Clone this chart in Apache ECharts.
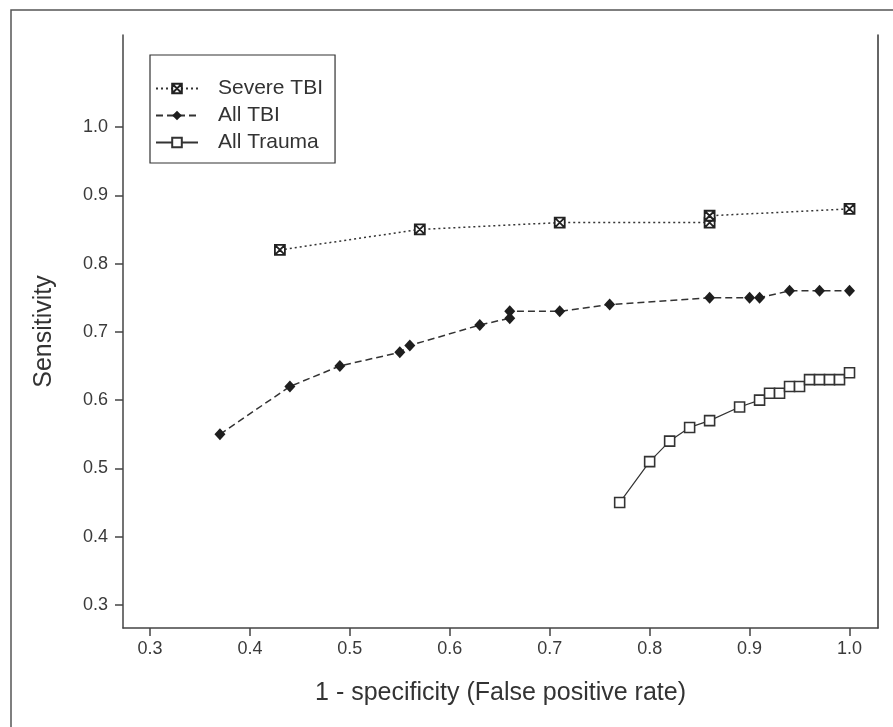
<!DOCTYPE html>
<html>
<head>
<meta charset="utf-8">
<script src="https://cdn.jsdelivr.net/npm/echarts@6/dist/echarts.min.js"></script>
<style>html,body{margin:0;padding:0;background:#fff;}#c{width:893px;height:727px;}</style>
</head>
<body>
<div id="c"></div>
<script>
// Data
const severeTBI = [[0.43,0.82],[0.57,0.85],[0.71,0.86],[0.86,0.86],[0.86,0.87],[1.00,0.88]];
const allTBI = [[0.37,0.55],[0.44,0.62],[0.49,0.65],[0.55,0.67],[0.56,0.68],[0.63,0.71],[0.66,0.72],[0.66,0.73],[0.71,0.73],[0.76,0.74],[0.86,0.75],[0.90,0.75],[0.91,0.75],[0.94,0.76],[0.97,0.76],[1.00,0.76]];
const allTrauma = [[0.77,0.45],[0.80,0.51],[0.82,0.54],[0.84,0.56],[0.86,0.57],[0.89,0.59],[0.91,0.60],[0.92,0.61],[0.93,0.61],[0.94,0.62],[0.95,0.62],[0.96,0.63],[0.97,0.63],[0.98,0.63],[0.99,0.63],[1.00,0.64]];
const xTicks = [0.3,0.4,0.5,0.6,0.7,0.8,0.9,1.0];
const yTicks = [0.3,0.4,0.5,0.6,0.7,0.8,0.9,1.0];
const seriesNames = ['Severe TBI','All TBI','All Trauma'];

const ink = '#333';
const font = 'Liberation Sans, Arial, sans-serif';
const chart = echarts.init(document.getElementById('c'), null, {renderer:'canvas'});
const fmt = v => Number(v).toFixed(1);
chart.setOption({
  backgroundColor:'#fff',
  animation:false,
  graphic:[{type:'rect', shape:{x:11,y:10,width:1000,height:1000}, style:{fill:'none', stroke:'#555', lineWidth:1.5}, silent:true}],
  grid:{left:123, right:15, top:35, bottom:99},
  legend:{
    left:150, top:55, orient:'vertical',
    data:seriesNames,
    borderColor:'#333', borderWidth:1.2,
    padding:[23,12,10,5],
    itemWidth:42, itemHeight:12, itemGap:6,
    textStyle:{fontFamily:font, fontSize:21, color:ink, padding:[0,0,0,15]}
  },
  xAxis:{
    type:'value', min:0.273, max:1.0285,
    name:'1 - specificity (False positive rate)', nameLocation:'middle', nameGap:53,
    nameTextStyle:{fontFamily:font, fontSize:25, color:ink},
    axisLine:{show:true, onZero:false, lineStyle:{color:'#444', width:1.5}},
    axisTick:{show:true, length:8, customValues:xTicks, lineStyle:{color:'#444', width:1.5}},
    axisLabel:{customValues:xTicks, formatter:fmt, fontFamily:font, fontSize:18, color:'#3a3a3a', margin:12},
    splitLine:{show:false}
  },
  yAxis:[{
    type:'value', min:0.2663, max:1.1347, position:'left',
    name:'Sensitivity', nameLocation:'middle', nameGap:66,
    nameTextStyle:{fontFamily:font, fontSize:25, color:ink},
    axisLine:{show:true, onZero:false, lineStyle:{color:'#444', width:1.5}},
    axisTick:{show:true, length:8, customValues:yTicks, lineStyle:{color:'#444', width:1.5}},
    axisLabel:{customValues:yTicks, formatter:fmt, fontFamily:font, fontSize:18, color:'#3a3a3a', margin:15},
    splitLine:{show:false}
  },{
    type:'value', min:0.2663, max:1.1347, position:'right',
    axisLine:{show:true, onZero:false, lineStyle:{color:'#333', width:1.5}},
    axisTick:{show:false}, axisLabel:{show:false}, splitLine:{show:false}
  }],
  series:[
    {name:'Severe TBI', type:'line', data:severeTBI,
     symbol:'path://M0,0L10,0L10,10L0,10Z M0,0L10,10 M10,0L0,10', symbolSize:10, showAllSymbol:true,
     itemStyle:{color:'#fff', borderColor:'#222', borderWidth:1.8},
     lineStyle:{color:'#333', width:1.5, type:[2,3]}},
    {name:'All TBI', type:'line', data:allTBI,
     symbol:'diamond', symbolSize:[11,12], showAllSymbol:true,
     itemStyle:{color:'#1e1e1e', borderColor:'#1e1e1e', borderWidth:0},
     lineStyle:{color:'#333', width:1.5, type:[7,4]}},
    {name:'All Trauma', type:'line', data:allTrauma,
     symbol:'rect', symbolSize:10, showAllSymbol:true,
     itemStyle:{color:'#fff', borderColor:'#333', borderWidth:1.6},
     lineStyle:{color:'#333', width:1.2, type:'solid'}}
  ]
});
</script>
</body>
</html>
